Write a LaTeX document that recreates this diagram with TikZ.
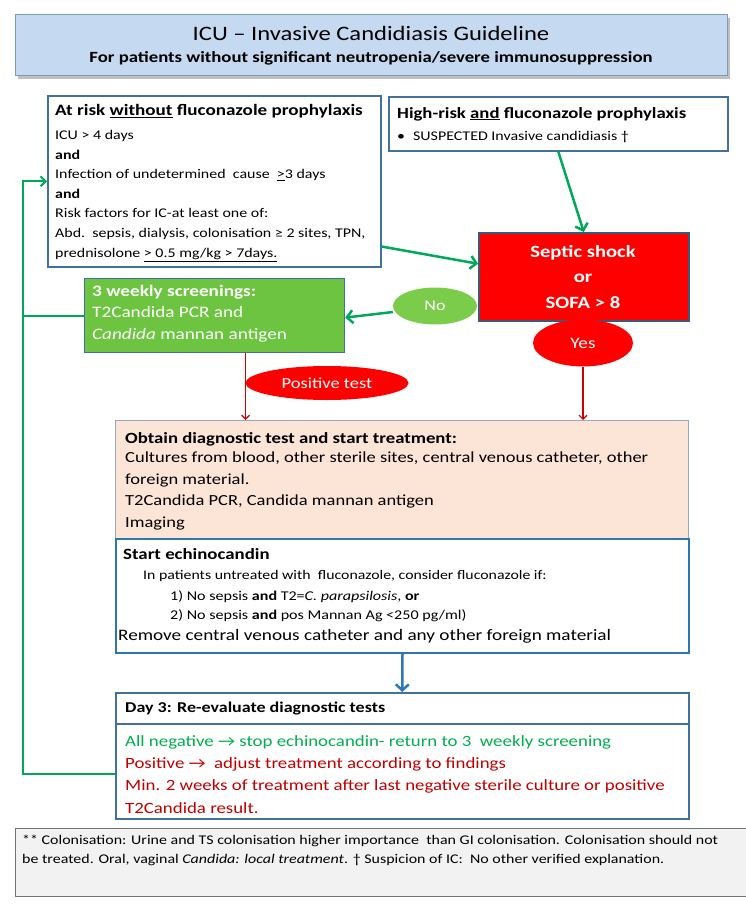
\documentclass[tikz,border=0pt]{standalone}
\usepackage{fontspec}
\setmainfont{Carlito}[FakeStretch=1.2]
\usetikzlibrary{arrows.meta,shapes.geometric,calc}
\definecolor{bordblue}{RGB}{65,113,156}
\definecolor{titlefill}{RGB}{197,217,241}
\definecolor{gbox}{RGB}{108,196,64}
\definecolor{noell}{RGB}{124,204,76}
\definecolor{linegreen}{RGB}{0,168,89}
\definecolor{peach}{RGB}{252,228,214}
\definecolor{peachbord}{RGB}{150,170,190}
\definecolor{txtgreen}{RGB}{0,176,80}
\definecolor{txtred}{RGB}{192,0,0}
\definecolor{footfill}{RGB}{242,242,242}
\definecolor{arrblue}{RGB}{46,117,182}
\definecolor{boxred}{RGB}{255,0,0}
\begin{document}
\begin{tikzpicture}[x=1pt,y=-1pt,
  box/.style={draw=bordblue, line width=1.5pt, fill=white, inner sep=0pt, anchor=north west},
  txt/.style={inner sep=0pt, anchor=north west, align=left},
  garrow/.style={draw=linegreen, line width=2.5pt, -{Straight Barb[length=6pt,width=13pt]}},
  gline/.style={draw=linegreen, line width=2pt},
  rarrow/.style={draw=txtred!80!red, line width=1.2pt, -{Straight Barb[length=4pt,width=8pt]}},
  barrow/.style={draw=arrblue, line width=2.5pt, -{Straight Barb[length=6pt,width=13pt]}},
  ell/.style={ellipse, inner sep=0pt, text=white}
]
\useasboundingbox (0,0) rectangle (745,907);
\fill[white] (0,0) rectangle (745,907);
% title
\fill[black!25] (18,18) rectangle (730,79);
\node[box, draw=bordblue!70, line width=1pt, fill=titlefill, minimum width=712pt, minimum height=61pt] (T) at (15,14) {};
\node[inner sep=0pt, font=\fontsize{20.5}{24}\selectfont] (T1) at (371,33) {ICU – Invasive Candidiasis Guideline};
\node[inner sep=0pt, font=\fontsize{15.6}{18}\selectfont\bfseries] (T2) at (371,58) {For patients without significant neutropenia/severe immunosuppression};
% box A
\node[box, minimum width=333pt, minimum height=171pt] (A) at (47,95) {};
\node[txt, font=\fontsize{15.9}{19}\selectfont\bfseries] (At) at (55,104) {At risk \underline{without} fluconazole prophylaxis};
\node[txt, font=\fontsize{13.3}{19.6}\selectfont] (Ab) at (55,130) {ICU > 4 days\\
\textbf{and}\\
Infection of undetermined\ \ cause\ \ \underline{>}3 days\\
\textbf{and}\\
Risk factors for IC-at least one of:\\
Abd.\ \ sepsis, dialysis, colonisation ≥ 2 sites, TPN,\\
prednisolone \underline{> 0.5 mg/kg > 7days.}};
% box B
\node[box, minimum width=339pt, minimum height=54pt] (B) at (388,96) {};
\node[txt, font=\fontsize{15.6}{19}\selectfont\bfseries] (Bt) at (397,107) {High-risk \underline{and} fluconazole prophylaxis};
\node[txt, font=\fontsize{13.3}{16}\selectfont] (Bb) at (397,131) {•\hspace{8pt}SUSPECTED Invasive candidiasis †};
% red box
\node[box, draw=bordblue!80!black, fill=boxred, minimum width=210pt, minimum height=88pt] (R) at (478,232) {};
\node[inner sep=0pt, align=center, text=white, font=\fontsize{17.2}{25.5}\selectfont\bfseries] (Rt) at (583,277) {Septic shock\\or\\SOFA > 8};
% green box
\node[box, draw=bordblue, line width=1.2pt, fill=gbox, minimum width=260pt, minimum height=74pt] (G) at (84,278) {};
\node[txt, text=white, font=\fontsize{16}{21.5}\selectfont] (Gt) at (92,285) {\textbf{3 weekly screenings:}\\T2Candida PCR and\\\textit{Candida} mannan antigen};
% ellipses
\node[ell, fill=noell, minimum width=84pt, minimum height=37pt, font=\fontsize{15}{18}\selectfont] (No) at (435,306) {No};
\node[ell, fill=boxred, minimum width=100pt, minimum height=47pt, font=\fontsize{16}{18}\selectfont] (Yes) at (583,343) {Yes};
\node[ell, fill=boxred, minimum width=163pt, minimum height=34pt, font=\fontsize{15.4}{18}\selectfont] (Pos) at (327,383) {Positive test};
% orange box
\node[box, draw=peachbord, line width=1pt, fill=peach, minimum width=573pt, minimum height=118pt] (O) at (115,420) {};
\node[txt, font=\fontsize{15.6}{18}\selectfont\bfseries] (Ot) at (125,432) {Obtain diagnostic test and start treatment:};
\node[txt, font=\fontsize{15.4}{21.5}\selectfont] (Ob) at (125,452) {Cultures from blood, other sterile sites, central venous catheter, other\\
foreign material.\\
T2Candida PCR, Candida mannan antigen\\
Imaging};
% echinocandin box
\node[box, draw=arrblue, line width=2pt, minimum width=573pt, minimum height=114pt] (E) at (115,538) {};
\node[txt, font=\fontsize{15.7}{19}\selectfont\bfseries] (Et) at (123,548) {Start echinocandin};
\node[txt, font=\fontsize{13.2}{16}\selectfont] (E1) at (143,570) {In patients untreated with\ \ fluconazole, consider fluconazole if:};
\node[txt, font=\fontsize{13.4}{19.5}\selectfont] (E2) at (170,590) {1) No sepsis \textbf{and} T2=\textit{C. parapsilosis}, \textbf{or}\\
2) No sepsis \textbf{and} pos Mannan Ag <250 pg/ml)};
\node[txt, font=\fontsize{16}{19}\selectfont] (E3) at (118,629) {Remove central venous catheter\ and any other\ foreign material};
% day 3 boxes
\node[box, minimum width=573pt, minimum height=31pt] (Dh) at (115,692) {};
\node[txt, font=\fontsize{15}{18}\selectfont\bfseries] (Dht) at (125,702) {Day 3: Re-evaluate diagnostic tests};
\node[box, minimum width=573pt, minimum height=95pt] (Db) at (115,723) {};
\node[txt, font=\fontsize{15.7}{22.3}\selectfont] (Dbt) at (125,735) {\textcolor{txtgreen}{All negative → stop echinocandin- return to 3\ \ weekly screening}\\
\textcolor{txtred}{Positive →\ \ adjust treatment according to findings}\\
\textcolor{txtred}{Min. 2 weeks of treatment after last negative sterile culture or positive}\\
\textcolor{txtred}{T2Candida result.}};
% footer
\node[box, draw=black!55, line width=1pt, fill=footfill, minimum width=735pt, minimum height=68pt] (F) at (15,828) {};
\node[txt, font=\fontsize{13.3}{19}\selectfont] (Ft) at (22,835) {** Colonisation: Urine and TS colonisation higher importance\ \ than GI colonisation. Colonisation should not\\
be treated. Oral, vaginal \textit{Candida: local treatment}. † Suspicion of IC:\ \ No other verified explanation.};
% connectors
\draw[garrow] ([yshift=21pt]A.south east) -- ([yshift=13pt]R.west);
\draw[garrow] (B.south) -- (R.north);
\draw[garrow] ([yshift=-6pt]No.west) -- ([yshift=-2pt]G.east);
\draw[rarrow] ([xshift=31pt]G.south) -- ([xshift=31pt]G.south |- O.north);
\draw[rarrow] (Yes.south) -- (Yes.south |- O.north);
\draw[barrow] (E.south) -- (Dh.north);
\coordinate (L) at (23,0);
\draw[gline, -{Straight Barb[length=5pt,width=10pt]}] ([yshift=-3pt]Db.west) -- ([yshift=-3pt]Db.west -| L) -- (A.west -| L) -- (A.west);
\draw[gline] (G.west -| L) -- (G.west);
\end{tikzpicture}
\end{document}
